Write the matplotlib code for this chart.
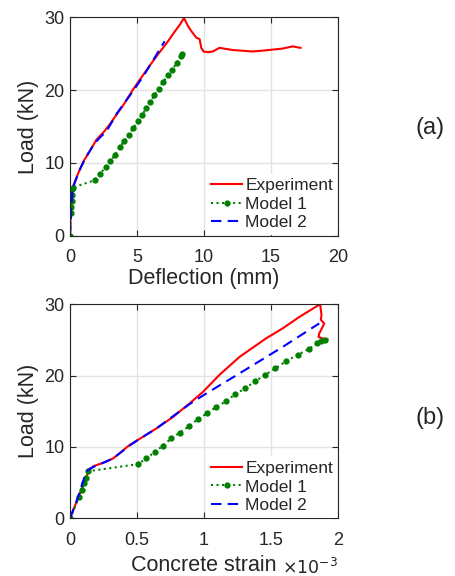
import matplotlib.pyplot as plt

plt.rcParams['font.family'] = ['Liberation Sans', 'DejaVu Sans']

# (a) load vs deflection
exp_a_x = [0, 0.05, 0.1, 0.15, 0.3, 0.62, 1.0, 1.24, 1.6, 1.98, 2.5, 2.97, 3.5, 4.0, 4.71, 5.2,
           6.0, 6.6, 7.19, 7.8, 8.2, 8.5, 8.8, 9.05, 9.42, 9.67, 9.79, 9.96, 10.3, 10.65, 11.15,
           12.14, 13.6, 14.3, 15.86, 16.6, 17.2]
exp_a_y = [0, 3.0, 5.5, 6.5, 7.1, 8.6, 10.2, 10.9, 12.0, 13.2, 14.2, 15.3, 16.7, 18.0, 20.1, 21.4,
           23.5, 25.0, 26.4, 28.0, 29.0, 29.9, 28.8, 28.1, 27.2, 27.0, 25.8, 25.3, 25.2, 25.3, 25.8,
           25.5, 25.3, 25.4, 25.7, 26.0, 25.8]
m1_a_x = [0, 0.08, 0.1, 0.12, 0.14, 0.17, 0.2, 1.83, 2.23, 2.68, 3.02, 3.35, 3.72, 4.06, 4.41,
          4.73, 5.06, 5.38, 5.7, 6.0, 6.3, 6.62, 6.94, 7.29, 7.6, 7.98, 8.25, 8.38]
m1_a_y = [0, 3.1, 3.9, 4.8, 5.6, 6.4, 6.6, 7.6, 8.5, 9.4, 10.2, 11.1, 12.2, 13.0, 13.85,
          14.8, 15.7, 16.6, 17.5, 18.3, 19.3, 20.2, 21.1, 22.0, 22.8, 23.7, 24.7, 25.0]
m2_a_x = [0, 0.1, 0.2, 0.4, 0.74, 1.2, 1.8, 2.3, 2.73, 3.5, 4.7, 5.5, 6.3, 7.06]
m2_a_y = [0, 4.0, 6.5, 7.5, 9.1, 10.8, 12.6, 13.6, 14.35, 16.8, 19.85, 22.0, 24.4, 26.7]

# (b) load vs concrete strain (x1e-3)
exp_b_x = [0, 0.074, 0.136, 0.173, 0.25, 0.322, 0.446, 0.508, 0.645, 0.768, 0.892, 0.991, 1.115,
           1.264, 1.462, 1.586, 1.71, 1.866, 1.871, 1.876, 1.871, 1.896, 1.884, 1.859, 1.854,
           1.884, 1.92]
exp_b_y = [0, 3.5, 6.5, 7.3, 7.8, 8.4, 10.3, 11.0, 12.6, 14.2, 16.1, 17.7, 20.1,
           22.6, 25.2, 26.6, 28.2, 30.0, 29.2, 28.5, 27.8, 27.3, 26.8, 25.9, 25.4,
           25.2, 25.1]
m1_b_x = [0, 0.069, 0.087, 0.104, 0.119, 0.136, 0.508, 0.57, 0.632, 0.694, 0.756, 0.818,
          0.887, 0.954, 1.021, 1.09, 1.164, 1.234, 1.306, 1.383, 1.455, 1.532, 1.611,
          1.698, 1.78, 1.846, 1.87, 1.9]
m1_b_y = [0, 3.0, 4.0, 4.9, 5.7, 6.6, 7.6, 8.4, 9.3, 10.2, 11.2, 12.0,
          12.9, 13.9, 14.7, 15.6, 16.4, 17.4, 18.2, 19.2, 20.1, 21.0, 22.0,
          22.9, 23.7, 24.55, 24.8, 25.0]
m2_b_x = [0, 0.06, 0.12, 0.15, 0.25, 0.322, 0.446, 0.508, 0.645, 0.768, 0.892, 1.0, 1.264,
          1.586, 1.859]
m2_b_y = [0, 3.0, 6.5, 7.0, 7.8, 8.4, 10.2, 11.0, 12.6, 14.3, 16.0, 17.3, 20.3, 24.0, 27.3]

names = ['Experiment', 'Model 1', 'Model 2']
dark = '#262626'

fig = plt.figure(figsize=(4.56, 5.76), dpi=100)
ax1 = fig.add_axes([0.1535, 0.591, 0.588, 0.379])
ax2 = fig.add_axes([0.1535, 0.100, 0.588, 0.372])


def draw(ax, ex, ey, m1x, m1y, m2x, m2y, sc):
    ax.plot([v * sc for v in ex], ey, color='red', lw=1.5, label=names[0])
    ax.plot([v * sc for v in m1x], m1y, color='#008000', ls=':', lw=1.5, marker='o',
            ms=3.5, label=names[1])
    ax.plot([v * sc for v in m2x], m2y, color='blue', ls=(0, (5, 3)), lw=1.5, label=names[2])
    ax.set_ylim(0, 30)
    ax.set_yticks([0, 10, 20, 30])
    ax.set_ylabel('Load (kN)', fontsize=15.5, color=dark, labelpad=4)
    ax.grid(True, color='#e3e3e3', lw=1)
    ax.set_axisbelow(True)
    ax.tick_params(direction='in', labelsize=13, colors=dark, length=4,
                   top=True, right=True)
    ax.tick_params(axis='x', pad=10)
    ax.tick_params(axis='y', pad=4)
    for s in ax.spines.values():
        s.set_color(dark)
    leg = ax.legend(loc='lower right', fontsize=12.5, frameon=True, fancybox=False,
                    edgecolor='none', framealpha=1, handlelength=1.75, borderpad=0.25,
                    labelspacing=0.2, handletextpad=0.2, borderaxespad=0.05)
    for t in leg.get_texts():
        t.set_color(dark)


draw(ax1, exp_a_x, exp_a_y, m1_a_x, m1_a_y, m2_a_x, m2_a_y, 1)
ax1.set_xlim(0, 20)
ax1.set_xticks([0, 5, 10, 15, 20])
ax1.set_xlabel('Deflection (mm)', fontsize=15.5, color=dark, labelpad=1)

draw(ax2, exp_b_x, exp_b_y, m1_b_x, m1_b_y, m2_b_x, m2_b_y, 1e-3)
ax2.set_xlim(0, 2e-3)
ax2.set_xticks([0, 0.5e-3, 1e-3, 1.5e-3, 2e-3])
ax2.set_xticklabels(['0', '0.5', '1', '1.5', '2'])
ax2.set_xlabel('Concrete strain', fontsize=15.5, color=dark, labelpad=4)
fig.text(338 / 456, 1.5 / 576, r'$\times 10^{-3}$', ha='right', va='baseline',
         fontsize=12.5, color=dark)

fig.text(0.944, 0.777, '(a)', fontsize=17, ha='center', va='center', color=dark)
fig.text(0.944, 0.274, '(b)', fontsize=17, ha='center', va='center', color=dark)

fig.savefig('out.png', dpi=100)
